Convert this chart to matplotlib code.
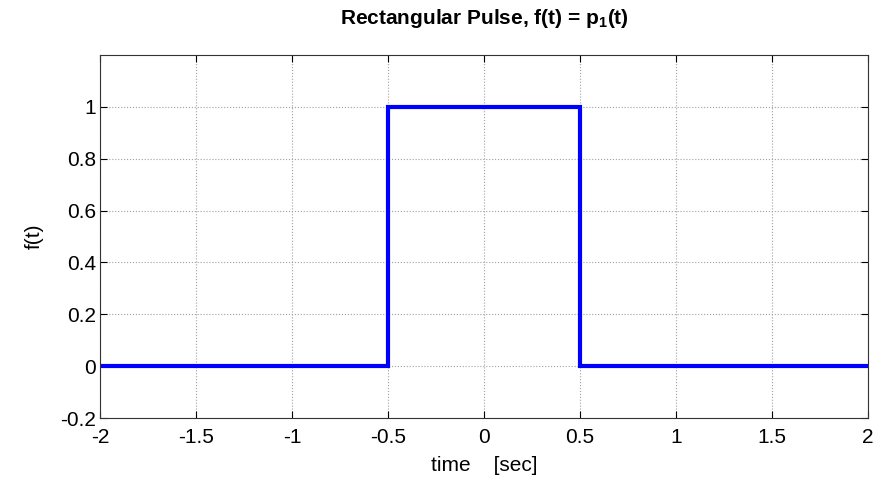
import matplotlib
matplotlib.use("Agg")
import matplotlib.pyplot as plt
import numpy as np

plt.rcParams['font.family'] = ['Liberation Sans', 'DejaVu Sans']
plt.rcParams['axes.unicode_minus'] = False
plt.rcParams['mathtext.fontset'] = 'custom'
plt.rcParams['mathtext.bf'] = 'Liberation Sans:bold'
plt.rcParams['mathtext.rm'] = 'Liberation Sans'

# rectangular pulse, half value at the edges
t = [-2, -0.5, -0.5, -0.5, 0.5, 0.5, 0.5, 2]
f = [0, 0, 0.5, 1, 1, 0.5, 0, 0]
xticks = [-2, -1.5, -1, -0.5, 0, 0.5, 1, 1.5, 2]
yticks = [-0.2, 0, 0.2, 0.4, 0.6, 0.8, 1]

fig = plt.figure(figsize=(8.83, 4.82), dpi=100)
ax = fig.add_axes([100/883, 1 - 418/482, 768/883, 363/482])

ax.plot(t, f, color='#0000ff', linewidth=3, solid_joinstyle='miter')

ax.set_xlim(-2, 2)
ax.set_ylim(-0.2, 1.2)
ax.set_xticks(xticks)
ax.set_yticks(yticks)
ax.set_xticklabels([f'{v:g}' for v in xticks])
ax.set_yticklabels([f'{v:g}' for v in yticks])
ax.tick_params(direction='in', top=True, right=True, labelsize=15, length=5, width=0.8)
ax.tick_params(axis='x', pad=7)
ax.tick_params(axis='y', pad=3)
ax.grid(True, linestyle=':', color='#a0a0a0', linewidth=0.8)
for s in ax.spines.values():
    s.set_linewidth(0.8)
    s.set_color('#333333')

ax.set_title('Rectangular Pulse, f(t) = p$_\\mathbf{1}$(t)', fontsize=15, fontweight='bold', pad=22)
ax.set_xlabel('time    [sec]', fontsize=15, labelpad=7)
ax.set_ylabel('f(t)', fontsize=15, labelpad=12)

fig.savefig('out.png', dpi=100)
